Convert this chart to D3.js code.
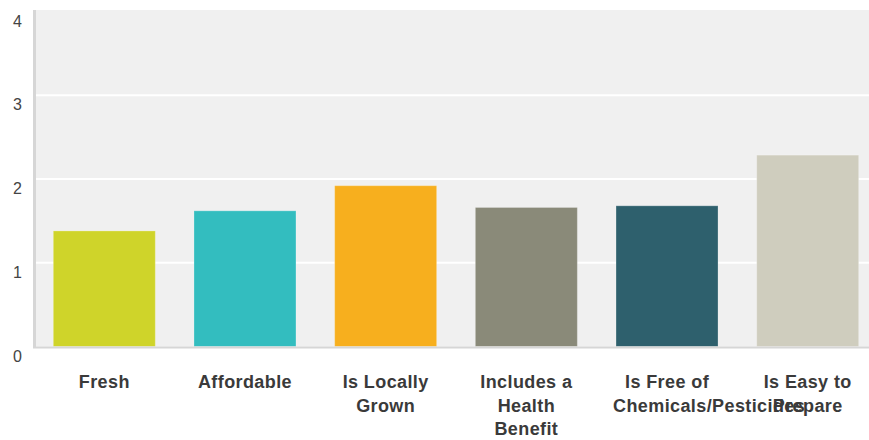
<!doctype html>
<html>
<head>
<script src="https://d3js.org/d3.v7.min.js"></script>
<style>
  body { margin: 0; background: #fff; }
</style>
</head>
<body>
<svg width="869" height="440"></svg>
<script>
    // data
    var categories = ["Fresh", "Affordable", "Is Locally Grown", "Includes a Health Benefit",
                      "Is Free of Chemicals/Pesticides", "Is Easy to Prepare"];
    var values = [1.38, 1.62, 1.92, 1.66, 1.68, 2.285];
    var colors = ["#cfd42a", "#33bdbf", "#f7af1e", "#8a8a79", "#2e606d", "#cfcdbe"];
    var yTicks = [0, 1, 2, 3, 4];

    var svg = d3.select("svg");
    var plotLeft = 36, plotRight = 869, plotTop = 10, plotBottom = 346.5;

    var x = d3.scaleBand().domain(categories).range([plotLeft, 876])
        .paddingInner(0.275).paddingOuter(0.123);
    var y = d3.scaleLinear().domain([0, 4]).range([plotBottom, 11.5]);

    // plot background
    svg.append("rect")
        .attr("x", plotLeft).attr("y", plotTop)
        .attr("width", plotRight - plotLeft).attr("height", plotBottom - plotTop)
        .style("fill", "#f0f0f0");

    // white gridlines
    svg.append("g").selectAll("line")
        .data(yTicks.filter(function (d) { return d > 0 && d < 4; }))
        .enter().append("line")
        .attr("x1", plotLeft).attr("x2", plotRight)
        .attr("y1", function (d) { return y(d); })
        .attr("y2", function (d) { return y(d); })
        .style("stroke", "#fff")
        .style("stroke-width", 2);

    // bars
    svg.append("g").selectAll("rect")
        .data(values)
        .enter().append("rect")
        .attr("x", function (d, i) { return x(categories[i]); })
        .attr("y", function (d) { return y(d); })
        .attr("width", x.bandwidth())
        .attr("height", function (d) { return y(0) - y(d); })
        .style("fill", function (d, i) { return colors[i]; })
        .style("stroke", "rgba(255,255,255,0.25)")
        .style("stroke-width", 1);

    // axis lines
    svg.append("line")
        .attr("x1", 34.5).attr("x2", 34.5).attr("y1", plotTop).attr("y2", plotBottom + 1.5)
        .style("stroke", "#d6d6d6").style("stroke-width", 3);
    svg.append("line")
        .attr("x1", 33).attr("x2", plotRight).attr("y1", plotBottom + 1).attr("y2", plotBottom + 1)
        .style("stroke", "#d6d6d6").style("stroke-width", 2);

    // y tick labels
    svg.append("g").selectAll("text")
        .data(yTicks)
        .enter().append("text")
        .attr("x", 22)
        .attr("y", function (d) { return y(d) + 15; })
        .attr("text-anchor", "end")
        .style("font-family", "Liberation Sans, Arial, sans-serif")
        .style("font-size", "16px")
        .style("fill", "#444")
        .text(function (d) { return d; });

    // x labels, wrapped inside a box a little wider than the bar;
    // a word longer than the box starts at the box's left edge and runs over
    var boxW = 108;
    var xl = svg.append("g").selectAll("text")
        .data(categories)
        .enter().append("text")
        .attr("y", 388)
        .style("font-family", "Liberation Sans, Arial, sans-serif")
        .style("font-size", "18px")
        .style("font-weight", "bold")
        .style("letter-spacing", "0.4px")
        .style("fill", "#3a3a3a");

    xl.each(function (d) {
        var t = d3.select(this), words = d.split(" "), lines = [], line = [];
        var cx = x(d) + x.bandwidth() / 2;
        var probe = t.append("tspan");
        words.forEach(function (w) {
            line.push(w);
            probe.text(line.join(" "));
            if (probe.node().getComputedTextLength() > boxW && line.length > 1) {
                line.pop();
                lines.push(line.join(" "));
                line = [w];
            }
        });
        lines.push(line.join(" "));
        probe.remove();
        lines.forEach(function (s, i) {
            var span = t.append("tspan").attr("dy", i === 0 ? 0 : 23.5).text(s);
            if (span.node().getComputedTextLength() > boxW) {
                span.attr("x", cx - boxW / 2).attr("text-anchor", "start");
            } else {
                span.attr("x", cx).attr("text-anchor", "middle");
            }
        });
    });
</script>
</body>
</html>
